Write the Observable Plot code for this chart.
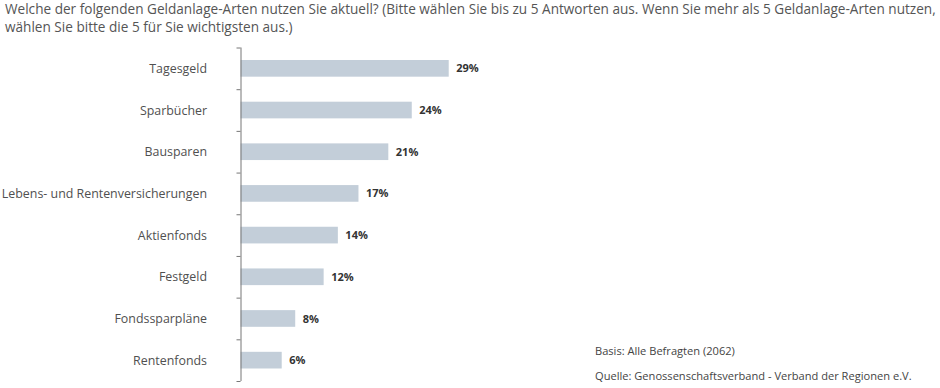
<!DOCTYPE html>
<html>
<head>
<meta charset="utf-8">
<script src="https://cdn.jsdelivr.net/npm/d3@7"></script>
<script src="https://cdn.jsdelivr.net/npm/@observablehq/plot@0.6"></script>
<style>
  html, body { margin: 0; padding: 0; background: #fff; }
  #wrap { position: relative; width: 940px; height: 388px; overflow: hidden; font-family: "Open Sans", sans-serif; }
  #title { position: absolute; left: 5px; top: 0px; font-size: 13.6px; line-height: 17.5px; color: #555; white-space: nowrap; }
  .note { position: absolute; left: 595px; font-size: 11.1px; color: #444; white-space: nowrap; }
  #chart { position: absolute; left: 0; top: 0; }
</style>
</head>
<body>
<div id="wrap">
  <div id="chart"></div>
  <div id="title">Welche der folgenden Geldanlage-Arten nutzen Sie aktuell? (Bitte wählen Sie bis zu 5 Antworten aus. Wenn Sie mehr als 5 Geldanlage-Arten nutzen,<br>wählen Sie bitte die 5 für Sie wichtigsten aus.)</div>
  <div class="note" style="top:343px">Basis: Alle Befragten (2062)</div>
  <div class="note" style="top:368px">Quelle: Genossenschaftsverband - Verband der Regionen e.V.</div>
</div>
<script>
const categories = ["Tagesgeld", "Sparbücher", "Bausparen", "Lebens- und Rentenversicherungen", "Aktienfonds", "Festgeld", "Fondssparpläne", "Rentenfonds"];
const values = [29.3, 24.1, 20.8, 16.6, 13.7, 11.7, 7.7, 5.8];
const valueLabels = ["29%", "24%", "21%", "17%", "14%", "12%", "8%", "6%"];

const data = categories.map((c, i) => ({i, category: c, value: values[i], label: valueLabels[i]}));
const boundaries = d3.range(categories.length + 1).map(k => k - 0.5);

const chart = Plot.plot({
  width: 940,
  height: 388,
  marginLeft: 240.5,
  marginRight: 131,
  marginTop: 47.5,
  marginBottom: 7,
  style: {fontFamily: "'Open Sans', sans-serif", background: "transparent"},
  x: {domain: [0, 80], axis: null, label: null},
  y: {domain: [-0.5, categories.length - 0.5], reverse: true, axis: null, label: null},
  marks: [
    Plot.rectX(data, {x1: 0, x2: "value", y1: d => d.i - 0.2, y2: d => d.i + 0.2, fill: "#c3ced9"}),
    Plot.ruleX([0], {y1: -0.5, y2: categories.length - 0.5, stroke: "#777", strokeWidth: 1}),
    Plot.axisY({ticks: boundaries, tickSize: 4, tickFormat: () => "", stroke: "#777", strokeWidth: 1, label: null}),
    Plot.axisY({ticks: data.map(d => d.i), tickSize: 0, tickPadding: 34, tickFormat: i => categories[i], fontSize: 12.4, fill: "#505050", label: null}),
    Plot.text(data, {x: "value", y: "i", text: "label", dx: 7, textAnchor: "start", fontSize: 11, fontWeight: "bold", fill: "#333"})
  ]
});
document.getElementById("chart").appendChild(chart);
</script>
</body>
</html>
